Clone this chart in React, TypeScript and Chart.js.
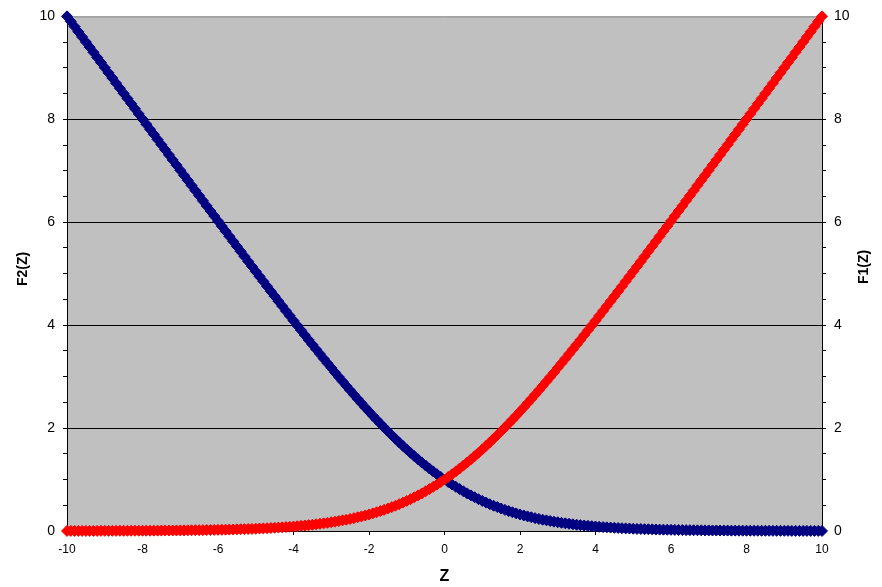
import React, { useEffect, useRef } from "react";
import { Chart, registerables } from "chart.js";

Chart.register(...registerables);

const zValues = [
  -10, -9.9, -9.8, -9.7, -9.6, -9.5, -9.4, -9.3, -9.2, -9.1,
  -9, -8.9, -8.8, -8.7, -8.6, -8.5, -8.4, -8.3, -8.2, -8.1,
  -8, -7.9, -7.8, -7.7, -7.6, -7.5, -7.4, -7.3, -7.2, -7.1,
  -7, -6.9, -6.8, -6.7, -6.6, -6.5, -6.4, -6.3, -6.2, -6.1,
  -6, -5.9, -5.8, -5.7, -5.6, -5.5, -5.4, -5.3, -5.2, -5.1,
  -5, -4.9, -4.8, -4.7, -4.6, -4.5, -4.4, -4.3, -4.2, -4.1,
  -4, -3.9, -3.8, -3.7, -3.6, -3.5, -3.4, -3.3, -3.2, -3.1,
  -3, -2.9, -2.8, -2.7, -2.6, -2.5, -2.4, -2.3, -2.2, -2.1,
  -2, -1.9, -1.8, -1.7, -1.6, -1.5, -1.4, -1.3, -1.2, -1.1,
  -1, -0.9, -0.8, -0.7, -0.6, -0.5, -0.4, -0.3, -0.2, -0.1,
  0, 0.1, 0.2, 0.3, 0.4, 0.5, 0.6, 0.7, 0.8, 0.9,
  1, 1.1, 1.2, 1.3, 1.4, 1.5, 1.6, 1.7, 1.8, 1.9,
  2, 2.1, 2.2, 2.3, 2.4, 2.5, 2.6, 2.7, 2.8, 2.9,
  3, 3.1, 3.2, 3.3, 3.4, 3.5, 3.6, 3.7, 3.8, 3.9,
  4, 4.1, 4.2, 4.3, 4.4, 4.5, 4.6, 4.7, 4.8, 4.9,
  5, 5.1, 5.2, 5.3, 5.4, 5.5, 5.6, 5.7, 5.8, 5.9,
  6, 6.1, 6.2, 6.3, 6.4, 6.5, 6.6, 6.7, 6.8, 6.9,
  7, 7.1, 7.2, 7.3, 7.4, 7.5, 7.6, 7.7, 7.8, 7.9,
  8, 8.1, 8.2, 8.3, 8.4, 8.5, 8.6, 8.7, 8.8, 8.9,
  9, 9.1, 9.2, 9.3, 9.4, 9.5, 9.6, 9.7, 9.8, 9.9,
  10,
];

const f1Values = [
  0.001, 0.002, 0.002, 0.002, 0.002, 0.002, 0.002, 0.002, 0.002, 0.003,
  0.003, 0.003, 0.003, 0.003, 0.004, 0.004, 0.004, 0.005, 0.005, 0.005,
  0.006, 0.006, 0.006, 0.007, 0.007, 0.008, 0.009, 0.009, 0.010, 0.010,
  0.011, 0.012, 0.013, 0.014, 0.015, 0.016, 0.017, 0.018, 0.019, 0.021,
  0.022, 0.024, 0.026, 0.027, 0.029, 0.032, 0.034, 0.036, 0.039, 0.041,
  0.044, 0.048, 0.051, 0.054, 0.058, 0.062, 0.067, 0.071, 0.076, 0.082,
  0.087, 0.094, 0.100, 0.107, 0.114, 0.122, 0.131, 0.140, 0.149, 0.159,
  0.170, 0.181, 0.194, 0.207, 0.220, 0.235, 0.250, 0.267, 0.284, 0.302,
  0.322, 0.342, 0.364, 0.387, 0.411, 0.437, 0.464, 0.492, 0.521, 0.552,
  0.585, 0.619, 0.655, 0.692, 0.731, 0.772, 0.814, 0.858, 0.903, 0.951,
  1.000, 1.051, 1.103, 1.158, 1.214, 1.272, 1.331, 1.392, 1.455, 1.519,
  1.585, 1.652, 1.721, 1.792, 1.864, 1.937, 2.011, 2.087, 2.164, 2.242,
  2.322, 2.402, 2.484, 2.567, 2.650, 2.735, 2.820, 2.907, 2.994, 3.081,
  3.170, 3.259, 3.349, 3.440, 3.531, 3.622, 3.714, 3.807, 3.900, 3.994,
  4.087, 4.182, 4.276, 4.371, 4.467, 4.562, 4.658, 4.754, 4.851, 4.948,
  5.044, 5.141, 5.239, 5.336, 5.434, 5.532, 5.629, 5.727, 5.826, 5.924,
  6.022, 6.121, 6.219, 6.318, 6.417, 6.516, 6.615, 6.714, 6.813, 6.912,
  7.011, 7.110, 7.210, 7.309, 7.409, 7.508, 7.607, 7.707, 7.806, 7.906,
  8.006, 8.105, 8.205, 8.305, 8.404, 8.504, 8.604, 8.703, 8.803, 8.903,
  9.003, 9.103, 9.202, 9.302, 9.402, 9.502, 9.602, 9.702, 9.802, 9.902,
  10.001,
];

const f2Values = [
  10.001, 9.902, 9.802, 9.702, 9.602, 9.502, 9.402, 9.302, 9.202, 9.103,
  9.003, 8.903, 8.803, 8.703, 8.604, 8.504, 8.404, 8.305, 8.205, 8.105,
  8.006, 7.906, 7.806, 7.707, 7.607, 7.508, 7.409, 7.309, 7.210, 7.110,
  7.011, 6.912, 6.813, 6.714, 6.615, 6.516, 6.417, 6.318, 6.219, 6.121,
  6.022, 5.924, 5.826, 5.727, 5.629, 5.532, 5.434, 5.336, 5.239, 5.141,
  5.044, 4.948, 4.851, 4.754, 4.658, 4.562, 4.467, 4.371, 4.276, 4.182,
  4.087, 3.994, 3.900, 3.807, 3.714, 3.622, 3.531, 3.440, 3.349, 3.259,
  3.170, 3.081, 2.994, 2.907, 2.820, 2.735, 2.650, 2.567, 2.484, 2.402,
  2.322, 2.242, 2.164, 2.087, 2.011, 1.937, 1.864, 1.792, 1.721, 1.652,
  1.585, 1.519, 1.455, 1.392, 1.331, 1.272, 1.214, 1.158, 1.103, 1.051,
  1.000, 0.951, 0.903, 0.858, 0.814, 0.772, 0.731, 0.692, 0.655, 0.619,
  0.585, 0.552, 0.521, 0.492, 0.464, 0.437, 0.411, 0.387, 0.364, 0.342,
  0.322, 0.302, 0.284, 0.267, 0.250, 0.235, 0.220, 0.207, 0.194, 0.181,
  0.170, 0.159, 0.149, 0.140, 0.131, 0.122, 0.114, 0.107, 0.100, 0.094,
  0.087, 0.082, 0.076, 0.071, 0.067, 0.062, 0.058, 0.054, 0.051, 0.048,
  0.044, 0.041, 0.039, 0.036, 0.034, 0.032, 0.029, 0.027, 0.026, 0.024,
  0.022, 0.021, 0.019, 0.018, 0.017, 0.016, 0.015, 0.014, 0.013, 0.012,
  0.011, 0.010, 0.010, 0.009, 0.009, 0.008, 0.007, 0.007, 0.006, 0.006,
  0.006, 0.005, 0.005, 0.005, 0.004, 0.004, 0.004, 0.003, 0.003, 0.003,
  0.003, 0.003, 0.002, 0.002, 0.002, 0.002, 0.002, 0.002, 0.002, 0.002,
  0.001,
];

const xTickValues = [-10, -8, -6, -4, -2, 0, 2, 4, 6, 8, 10];
const yTickValues = [
  0, 0.5, 1, 1.5, 2, 2.5, 3, 3.5, 4, 4.5, 5, 5.5, 6, 6.5, 7, 7.5, 8, 8.5, 9, 9.5, 10,
];
const yLabelValues = [0, 2, 4, 6, 8, 10];
const gridValues = [2, 4, 6, 8];

const xTitle = "Z";
const leftTitle = "F2(Z)";
const rightTitle = "F1(Z)";
const f1Label = "F1(Z)";
const f2Label = "F2(Z)";

const FONT = '"Liberation Sans", Arial, sans-serif';

const decorPlugin = {
  id: "decor",
  beforeDraw(chart: any) {
    const { ctx, chartArea } = chart;
    const { left, top, right, bottom } = chartArea;
    ctx.save();
    ctx.fillStyle = "#C0C0C0";
    ctx.fillRect(left, top, right - left, bottom - top);
    ctx.strokeStyle = "#808080";
    ctx.lineWidth = 1;
    ctx.beginPath();
    ctx.moveTo(left, top + 0.5);
    ctx.lineTo(right, top + 0.5);
    ctx.stroke();
    ctx.restore();
  },
  afterDraw(chart: any) {
    const { ctx, chartArea } = chart;
    ctx.save();
    ctx.fillStyle = "#000";
    ctx.textAlign = "center";
    ctx.textBaseline = "middle";
    ctx.font = `bold 16px ${FONT}`;
    ctx.fillText(xTitle, (chartArea.left + chartArea.right) / 2, 577);
    ctx.font = `bold 14px ${FONT}`;
    ctx.save();
    ctx.translate(23, 269);
    ctx.rotate(-Math.PI / 2);
    ctx.fillText(leftTitle, 0, 0);
    ctx.restore();
    ctx.save();
    ctx.translate(864, 267);
    ctx.rotate(-Math.PI / 2);
    ctx.fillText(rightTitle, 0, 0);
    ctx.restore();
    ctx.restore();
  },
};

function yAxis(position: "left" | "right", width: number) {
  return {
    type: "linear" as const,
    position,
    min: 0,
    max: 10,
    afterFit: (s: any) => {
      s.width = width;
    },
    afterBuildTicks: (s: any) => {
      s.ticks = yTickValues.map((v) => ({ value: v }));
    },
    ticks: {
      autoSkip: false,
      color: "#000",
      padding: 8,
      font: { family: FONT, size: 14 },
      callback: (v: any) => (yLabelValues.includes(Number(v)) ? String(v) : ""),
    },
    grid: {
      drawOnChartArea: position === "left",
      color: (c: any) =>
        c.tick && gridValues.includes(c.tick.value) ? "#000" : "rgba(0,0,0,0)",
      tickColor: "#000",
      tickLength: 4,
      lineWidth: 1,
    },
    border: { color: "#000", width: 1 },
  };
}

export default function App() {
  const canvasRef = useRef<HTMLCanvasElement | null>(null);

  useEffect(() => {
    if (!canvasRef.current) return;
    const chart = new Chart(canvasRef.current, {
      type: "scatter",
      data: {
        datasets: [
          {
            label: f1Label,
            data: zValues.map((z, i) => ({ x: z, y: f1Values[i] })),
            yAxisID: "y2",
            showLine: false,
            pointStyle: "rectRot",
            pointRadius: 5.5,
            pointBorderWidth: 1,
            pointBackgroundColor: "#FF0000",
            pointBorderColor: "#FF0000",
            backgroundColor: "#FF0000",
            borderColor: "#FF0000",
            order: 0,
            clip: false,
          } as any,
          {
            label: f2Label,
            data: zValues.map((z, i) => ({ x: z, y: f2Values[i] })),
            yAxisID: "y",
            showLine: false,
            pointStyle: "rectRot",
            pointRadius: 5.5,
            pointBorderWidth: 1,
            pointBackgroundColor: "#000080",
            pointBorderColor: "#000080",
            backgroundColor: "#000080",
            borderColor: "#000080",
            order: 1,
            clip: false,
          } as any,
        ],
      },
      options: {
        responsive: false,
        animation: false,
        devicePixelRatio: 1,
        layout: { padding: { top: 15, left: 0, right: 0, bottom: 0 } },
        plugins: {
          legend: { display: false },
          tooltip: { enabled: false },
        },
        scales: {
          x: {
            type: "linear",
            min: -10,
            max: 10,
            afterFit: (s: any) => {
              s.height = 56;
            },
            afterBuildTicks: (s: any) => {
              s.ticks = xTickValues.map((v) => ({ value: v }));
            },
            ticks: {
              autoSkip: false,
              maxRotation: 0,
              color: "#000",
              padding: 7,
              font: { family: FONT, size: 12 },
            },
            grid: {
              drawOnChartArea: false,
              tickColor: "#000",
              tickLength: 4,
            },
            border: { color: "#000", width: 1 },
          },
          y: yAxis("left", 67),
          y2: yAxis("right", 60),
        } as any,
      },
      plugins: [decorPlugin],
    });
    return () => chart.destroy();
  }, []);

  return (
    <div style={{ position: "absolute", left: 0, top: 0, width: 882, height: 587 }}>
      <canvas ref={canvasRef} width={882} height={587} style={{ display: "block" }} />
    </div>
  );
}
